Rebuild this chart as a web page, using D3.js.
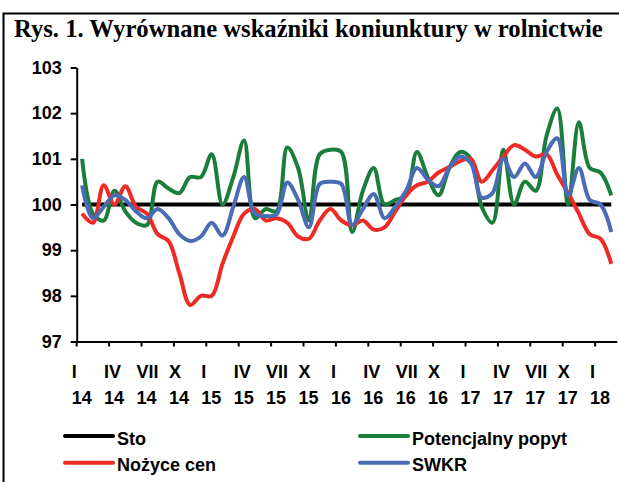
<!DOCTYPE html>
<html>
<head>
<meta charset="utf-8">
<script src="https://cdn.jsdelivr.net/npm/d3@7"></script>
<style>
  body { margin: 0; background: #fff; }
  svg { display: block; }
  .axis text { font-family: 'Liberation Sans', Arial, sans-serif; font-weight: bold; font-size: 18px; fill: #000; }
  .axis path, .axis line { stroke: #000; stroke-width: 2; }
</style>
</head>
<body>
<svg></svg>
<script>
const w = 619;
const h = 482;

// months I 2014 .. II 2018
const months = [
  '2014-01', '2014-02', '2014-03', '2014-04', '2014-05', '2014-06', '2014-07', '2014-08', '2014-09', '2014-10', '2014-11', '2014-12',
  '2015-01', '2015-02', '2015-03', '2015-04', '2015-05', '2015-06', '2015-07', '2015-08', '2015-09', '2015-10', '2015-11', '2015-12',
  '2016-01', '2016-02', '2016-03', '2016-04', '2016-05', '2016-06', '2016-07', '2016-08', '2016-09', '2016-10', '2016-11', '2016-12',
  '2017-01', '2017-02', '2017-03', '2017-04', '2017-05', '2017-06', '2017-07', '2017-08', '2017-09', '2017-10', '2017-11', '2017-12',
  '2018-01', '2018-02'
];

const tickRoman = ['I', 'IV', 'VII', 'X', 'I', 'IV', 'VII', 'X', 'I', 'IV', 'VII', 'X', 'I', 'IV', 'VII', 'X', 'I'];
const tickYear = ['14', '14', '14', '14', '15', '15', '15', '15', '16', '16', '16', '16', '17', '17', '17', '17', '18'];
const yTicks = [97, 98, 99, 100, 101, 102, 103];

const sto = [
  100, 100, 100, 100, 100, 100, 100, 100, 100, 100, 100, 100,
  100, 100, 100, 100, 100, 100, 100, 100, 100, 100, 100, 100,
  100, 100, 100, 100, 100, 100, 100, 100, 100, 100, 100, 100,
  100, 100, 100, 100, 100, 100, 100, 100, 100, 100, 100, 100,
  100, 100
];
const popyt = [
  101.0, 99.8, 99.65, 100.3, 99.85, 99.6, 99.55, 100.5, 100.35, 100.25, 100.6, 100.6,
  101.1, 100.0, 100.6, 101.4, 99.7, 99.9, 99.85, 101.25, 100.8, 99.65, 101.1, 101.2,
  101.15, 99.4, 100.3, 100.8, 100.0, 100.1, 100.2, 101.15, 100.6, 100.2, 100.8, 101.15,
  101.0, 99.95, 99.6, 101.2, 100.0, 100.5, 100.3, 101.5, 102.1, 100.0, 101.8, 100.8,
  100.7, 100.2
];
const nozyce = [
  99.8, 99.6, 100.42, 100.0, 100.4, 99.95, 99.8, 99.35, 99.2, 98.5, 97.8, 98.0,
  98.0, 98.7, 99.3, 99.8, 99.9, 99.65, 99.7, 99.6, 99.3, 99.25, 99.65, 99.9,
  99.65, 99.55, 99.65, 99.45, 99.5, 99.85, 100.2, 100.42, 100.5, 100.7, 100.82, 100.95,
  101.0, 100.5, 100.75, 101.05, 101.3, 101.2, 101.05, 101.1, 100.65, 100.25, 99.8, 99.35,
  99.25, 98.7
];
const swkr = [
  100.42, 99.7, 99.95, 100.2, 100.1, 99.85, 99.7, 99.9, 99.7, 99.35, 99.2, 99.3,
  99.6, 99.32, 99.95, 100.6, 99.8, 99.75, 99.78, 100.48, 100.1, 99.5, 100.45, 100.5,
  100.45, 99.55, 99.9, 100.23, 99.7, 99.95, 100.3, 100.8, 100.55, 100.4, 100.8, 101.05,
  100.9, 100.15, 100.25, 101.0, 100.6, 100.9, 100.6, 101.15, 101.45, 100.2, 100.8, 100.1,
  100.0, 99.4
];

const series = [
  { name: 'Sto', values: sto, color: '#000000' },
  { name: 'Potencjalny popyt', values: popyt, color: '#1b7d3a' },
  { name: 'Nożyce cen', values: nozyce, color: '#ee2a24' },
  { name: 'SWKR', values: swkr, color: '#4a6bb6' }
];

const svg = d3.select('svg').attr('width', w).attr('height', h);

// frame
svg.append('rect')
  .attr('x', 3.5).attr('y', 13.5)
  .attr('width', w + 10).attr('height', h + 10)
  .attr('fill', 'none').attr('stroke', '#000').attr('stroke-width', 2);

// title, fitted to the reference width
const title = svg.append('text')
  .text('Rys. 1. Wyrównane wskaźniki koniunktury w rolnictwie')
  .attr('x', 14)
  .attr('y', 37)
  .style('font-family', "'Liberation Serif', 'Times New Roman', serif")
  .style('font-weight', 'bold')
  .style('font-size', '20px');
const tw = title.node().getComputedTextLength();
title.style('font-size', (20 * 589 / tw).toFixed(2) + 'px');

const x = d3.scaleBand().domain(months).range([76.7, 616.7]);
const y = d3.scaleLinear().domain([97, 103]).range([341.5, 67.5]);

// y axis
svg.append('g')
  .attr('class', 'axis')
  .attr('transform', 'translate(76.7,0)')
  .call(d3.axisLeft(y).tickValues(yTicks).tickFormat(d3.format('d')).tickSize(6).tickSizeOuter(0).tickPadding(9));

// x axis: ticks at every third month boundary
const tickMonths = months.filter((d, i) => i % 3 === 0);
const xAxis = svg.append('g')
  .attr('class', 'axis')
  .attr('transform', 'translate(0,' + y(97) + ')')
  .call(d3.axisBottom(x).tickValues(tickMonths).tickFormat('').tickSize(5).tickSizeOuter(0));
xAxis.selectAll('.tick').attr('transform', d => 'translate(' + x(d) + ',0)');

const lab = svg.append('g').attr('class', 'axis');
tickMonths.forEach((m, k) => {
  const cx = x(m) + x.bandwidth() / 2 - 10.4;
  lab.append('text').attr('x', cx).attr('y', 378).text(tickRoman[k]);
  lab.append('text').attr('x', cx).attr('y', 404).text(tickYear[k]);
});

// lines
const line = d3.line()
  .x((d, i) => x(months[i]) + x.bandwidth() / 2)
  .y(d => y(d))
  .curve(d3.curveCatmullRom.alpha(0.5));

series.forEach(s => {
  svg.append('path')
    .datum(s.values)
    .attr('d', line)
    .attr('fill', 'none')
    .attr('stroke', s.color)
    .attr('stroke-width', 4)
    .attr('stroke-linejoin', 'round');
});

// legend
const legendPos = [[65, 436], [360, 436], [65, 462.7], [360, 462.7]];
series.forEach((s, i) => {
  const [lx, ly] = legendPos[i];
  svg.append('line')
    .attr('x1', lx).attr('x2', lx + 48)
    .attr('y1', ly).attr('y2', ly)
    .attr('stroke', s.color).attr('stroke-width', 4).attr('stroke-linecap', 'round');
  svg.append('text')
    .attr('x', lx + 52).attr('y', ly + 8.5)
    .text(s.name)
    .style('font-family', "'Liberation Sans', Arial, sans-serif")
    .style('font-weight', 'bold')
    .style('font-size', '18px');
});
</script>
</body>
</html>
